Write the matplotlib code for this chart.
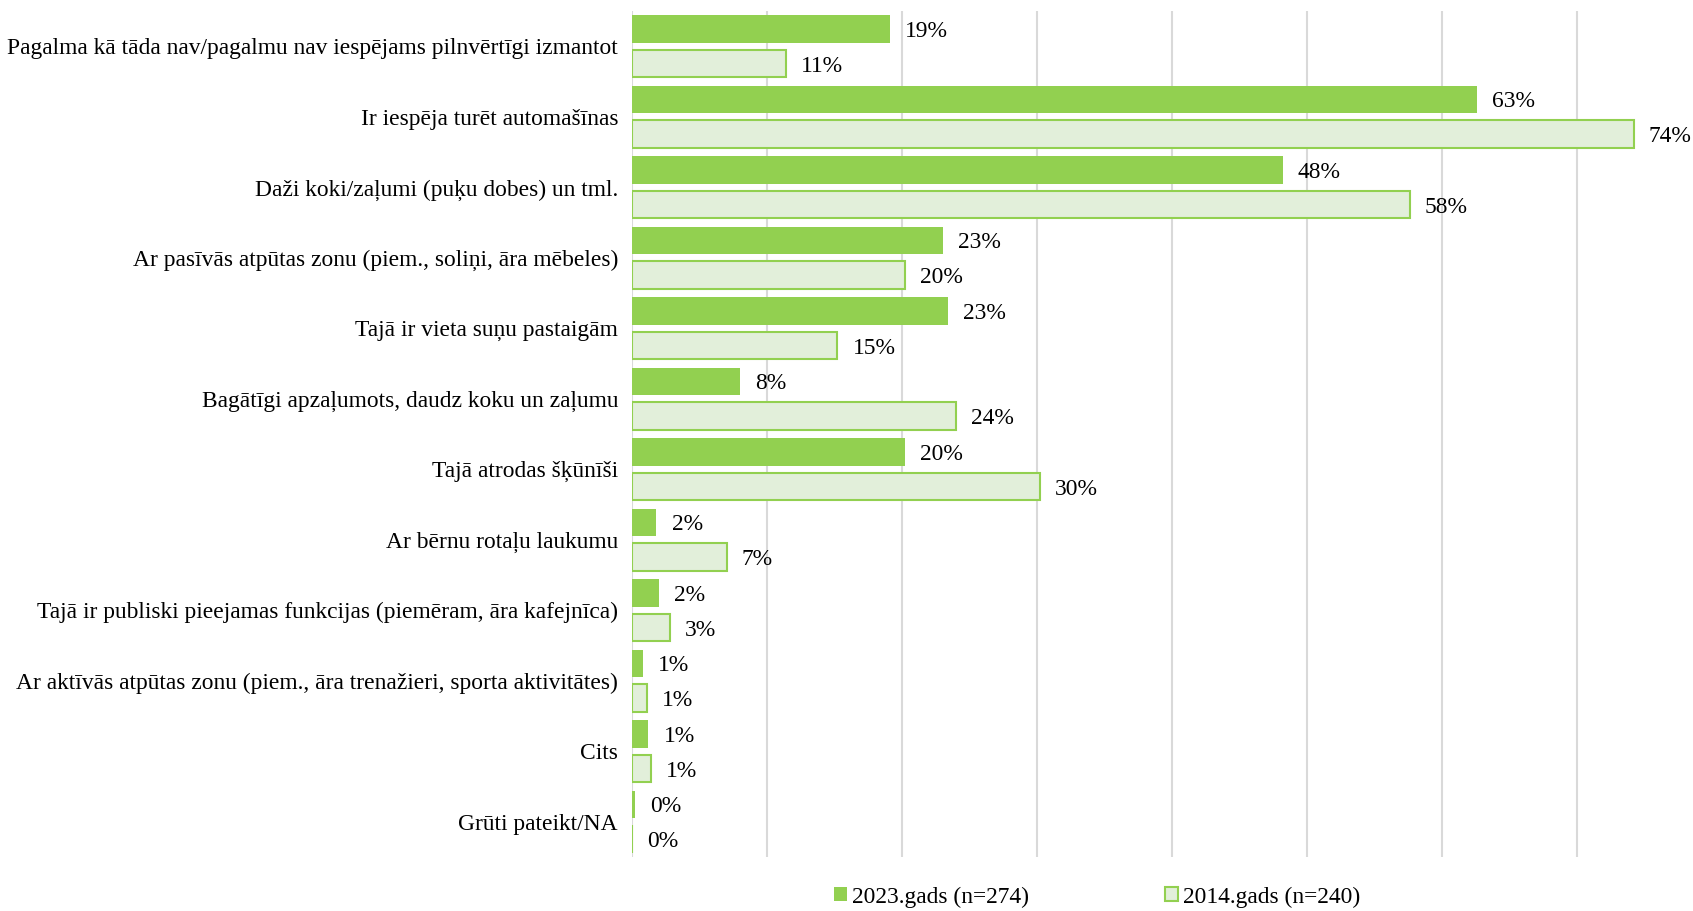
import matplotlib
matplotlib.use("Agg")
import matplotlib.pyplot as plt
from matplotlib.patches import Patch
import numpy as np

categories = [
    "Pagalma kā tāda nav/pagalmu nav iespējams pilnvērtīgi izmantot",
    "Ir iespēja turēt automašīnas",
    "Daži koki/zaļumi (puķu dobes) un tml.",
    "Ar pasīvās atpūtas zonu (piem., soliņi, āra mēbeles)",
    "Tajā ir vieta suņu pastaigām",
    "Bagātīgi apzaļumots, daudz koku un zaļumu",
    "Tajā atrodas šķūnīši",
    "Ar bērnu rotaļu laukumu",
    "Tajā ir publiski pieejamas funkcijas (piemēram, āra kafejnīca)",
    "Ar aktīvās atpūtas zonu (piem., āra trenažieri, sporta aktivitātes)",
    "Cits",
    "Grūti pateikt/NA",
]
values_2023 = [19.1, 62.6, 48.2, 23.0, 23.4, 8.0, 20.2, 1.8, 2.0, 0.8, 1.2, 0.2]
values_2014 = [11.4, 74.2, 57.6, 20.2, 15.2, 24.0, 30.2, 7.0, 2.8, 1.1, 1.4, 0.0]
labels_2023 = ["19%", "63%", "48%", "23%", "23%", "8%", "20%", "2%", "2%", "1%", "1%", "0%"]
labels_2014 = ["11%", "74%", "58%", "20%", "15%", "24%", "30%", "7%", "3%", "1%", "1%", "0%"]
series_names = ["2023.gads (n=274)", "2014.gads (n=240)"]

plt.rcParams['font.family'] = ['Liberation Serif', 'DejaVu Serif']
FS = 16.9

W, H = 1693, 911
fig = plt.figure(figsize=(W / 100, H / 100), dpi=100)
left_px, right_px = 632, 632 + 78 * 13.5
top_px, bot_px = 11, 857
ax = fig.add_axes([left_px / W, 1 - bot_px / H, (right_px - left_px) / W, (bot_px - top_px) / H])

green = "#92D050"
light = "#E2EFDA"
y = np.arange(len(categories))
h = 0.39
off = 0.245
ax.barh(y - off, values_2023, height=h, color=green, edgecolor=green, linewidth=0, zorder=3)
ax.barh(y + off, values_2014, height=h, color=light, edgecolor=green, linewidth=1.5, zorder=3)

for yi, v, lab in zip(y, values_2023, labels_2023):
    ax.annotate(lab, (v, yi - off), xytext=(11, 0), textcoords="offset points",
                va="center_baseline", ha="left", fontsize=FS, color="#000000")
for yi, v, lab in zip(y, values_2014, labels_2014):
    ax.annotate(lab, (v, yi + off), xytext=(11, 0), textcoords="offset points",
                va="center_baseline", ha="left", fontsize=FS, color="#000000")

ax.set_xlim(0, 78)
ax.set_ylim(len(categories) - 0.5, -0.5)
ax.set_xticks(np.arange(0, 80, 10))
ax.xaxis.grid(True, color="#D9D9D9", linewidth=1.5, zorder=0)
ax.tick_params(axis="x", length=0, labelbottom=False)
ax.tick_params(axis="y", length=0, pad=10, labelsize=FS)
ax.set_yticks(y)
ax.set_yticklabels(categories)
for s in ax.spines.values():
    s.set_visible(False)

handles = [Patch(facecolor=green, edgecolor=green, linewidth=0),
           Patch(facecolor=light, edgecolor=green, linewidth=1.5)]
fig.legend(handles, series_names, loc="center", bbox_to_anchor=(1097 / W, 1 - 897 / H),
           ncol=2, frameon=False, fontsize=FS, handlelength=0.55, handleheight=0.55,
           handletextpad=0.2, columnspacing=5.8)

fig.savefig("out.png", dpi=100)
